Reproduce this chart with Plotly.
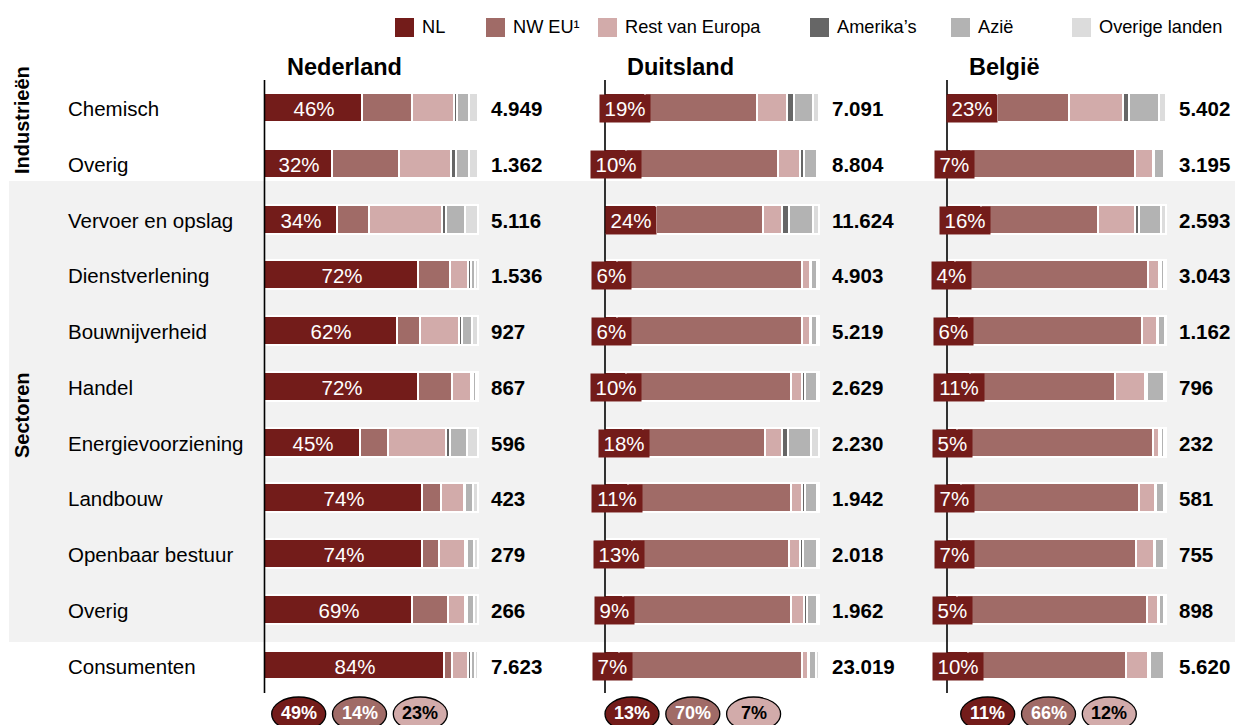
import plotly.graph_objects as go

# ---------------- data ----------------
categories = ["Chemisch", "Overig", "Vervoer en opslag", "Dienstverlening", "Bouwnijverheid",
              "Handel", "Energievoorziening", "Landbouw", "Openbaar bestuur", "Overig", "Consumenten"]
series_names = ["NL", "NW EU¹", "Rest van Europa", "Amerika’s", "Azië", "Overige landen"]
panel_titles = ["Nederland", "Duitsland", "België"]

# Nederland
nl_NL = [46, 32, 34, 72, 62, 72, 45, 74, 74, 69, 84]
nl_NW = [23, 31, 15, 15, 11, 16, 13, 8.5, 8, 17, 4]
nl_Rest = [20, 24.5, 34, 8.5, 18, 8.5, 27, 11, 12, 8, 7.5]
nl_Am = [1, 2, 2, 1, 1.5, 1, 2, 0.5, 1, 1, 1]
nl_Az = [6, 6.5, 9, 2, 4.5, 1.5, 8, 3.5, 3, 3, 2]
nl_Ov = [4, 4, 6, 1.5, 3, 1, 5, 2.5, 2, 2, 1.5]
nl_tot = [4949, 1362, 5116, 1536, 927, 867, 596, 423, 279, 266, 7623]
nl_sum = [49, 14, 23]

# Duitsland
de_NL = [19, 10, 24, 6, 6, 10, 18, 11, 13, 9, 7]
de_NW = [52, 71, 50, 86, 86, 77, 57, 76, 73, 78, 85]
de_Rest = [14, 10, 9, 4, 4, 5, 8, 5, 5, 6, 3]
de_Am = [3.5, 2, 3, 0.5, 0.5, 1.5, 2.5, 1.5, 1.5, 1.5, 0.5]
de_Az = [8.5, 6, 11, 2.5, 2.5, 5.5, 11, 5.5, 6.5, 4.5, 3]
de_Ov = [3, 1, 3, 1, 1, 1, 3.5, 1, 1, 1, 1.5]
de_tot = [7091, 8804, 11624, 4903, 5219, 2629, 2230, 1942, 2018, 1962, 23019]
de_sum = [13, 70, 7]

# België
be_NL = [23, 7, 16, 4, 6, 11, 5, 7, 7, 5, 10]
be_NW = [33, 79, 53, 88, 83, 66, 89, 80.5, 79.5, 86.5, 72]
be_Rest = [24.5, 8, 17, 5, 7, 13.5, 3, 7.5, 8, 5, 10]
be_Am = [2.5, 0.7, 1.5, 0.5, 0.5, 1, 0.5, 0.5, 0.5, 0.5, 0.5]
be_Az = [14, 4.6, 10, 1.5, 3, 7.5, 1.5, 3.5, 4, 2, 6.5]
be_Ov = [3, 0.7, 2.5, 1, 0.5, 1, 1, 1, 1, 1, 1]
be_tot = [5402, 3195, 2593, 3043, 1162, 796, 232, 581, 755, 898, 5620]
be_sum = [11, 66, 12]

group_labels = ["Industrieën", "Sectoren"]

# ---------------- style ----------------
W, H = 1235, 725
colors = ["#731c1a", "#a06b67", "#d2abaa", "#666666", "#b3b3b3", "#dcdcdc"]
FONT = "Liberation Sans, Arial, sans-serif"


def px(x):
    return x / W


def py(y):
    return 1 - y / H


row0, rowstep = 108.8, 55.72
yr_top = -row0 / rowstep
yr_bot = (H - row0) / rowstep


def yv(pix):
    return (pix - row0) / rowstep


panels = [
    dict(series=[nl_NL, nl_NW, nl_Rest, nl_Am, nl_Az, nl_Ov], tot=nl_tot, summ=nl_sum,
         dom=(265, 479), ax=264.5, ell=271.7),
    dict(series=[de_NL, de_NW, de_Rest, de_Am, de_Az, de_Ov], tot=de_tot, summ=de_sum,
         dom=(605, 820), ax=605, ell=605),
    dict(series=[be_NL, be_NW, be_Rest, be_Am, be_Az, be_Ov], tot=be_tot, summ=be_sum,
         dom=(947, 1167), ax=947, ell=960.7),
]

fig = go.Figure()
ypos = list(range(len(categories)))
shapes = []
annotations = []

LBL_FS = 20.5


def text_w(s, fs):
    return sum(0.556 if c.isdigit() else 0.889 if c == "%" else 0.5 for c in s) * fs


# gray band
shapes.append(dict(type="rect", xref="paper", yref="y", x0=px(9), x1=1,
                   y0=yv(181), y1=yv(642), fillcolor="#f2f2f2", line_width=0, layer="below"))

for p_i, p in enumerate(panels):
    xa = "x" if p_i == 0 else f"x{p_i + 1}"
    scale = (p["dom"][1] - p["dom"][0]) / 100.0
    for s_i, vals in enumerate(p["series"]):
        fig.add_trace(go.Bar(
            x=vals, y=ypos, orientation="h", xaxis=xa, yaxis="y",
            name=series_names[s_i], showlegend=False,
            marker=dict(color=colors[s_i], line=dict(color="white", width=1.6)),
            width=0.52, hoverinfo="skip"))
    # axis line
    shapes.append(dict(type="line", xref="paper", yref="y", x0=px(p["ax"]), x1=px(p["ax"]),
                       y0=yv(80), y1=yv(693), line=dict(color="black", width=1.6), layer="above"))
    # NL percentage labels
    for i, v in enumerate(p["series"][0]):
        t = f"{v:g}%"
        wbox = text_w(t, LBL_FS) + 5
        need_box = (wbox + 4) > (v * scale - 2)
        annotations.append(dict(xref=xa, yref="y", x=v / 2, y=i, text=t, showarrow=False,
                                font=dict(family=FONT, size=LBL_FS, color="white"),
                                bgcolor=colors[0] if need_box else "rgba(0,0,0,0)",
                                borderpad=2, height=23,
                                width=wbox, xanchor="center", yanchor="middle"))
    # totals
    for i, v in enumerate(p["tot"]):
        annotations.append(dict(xref=xa, yref="y", x=100, y=i, xshift=10,
                                text=f"{v:,}".replace(",", "."), showarrow=False,
                                xanchor="left", yanchor="middle",
                                font=dict(family=FONT, size=20.5, color="black", weight="bold")))
    # title
    annotations.append(dict(xref="paper", yref="paper", x=px(p["ax"] + 20), y=py(67),
                            text=f"<b>{panel_titles[p_i]}</b>", showarrow=False,
                            xanchor="left", yanchor="middle",
                            font=dict(family=FONT, size=23.5, color="black")))
    # summary ellipses
    for k, v in enumerate(p["summ"]):
        x0 = p["ell"] + k * 60.8
        shapes.append(dict(type="circle", xref="paper", yref="paper",
                           x0=px(x0), x1=px(x0 + 54), y0=py(697), y1=py(731),
                           fillcolor=colors[k], line=dict(color="black", width=1.3), layer="above"))
        annotations.append(dict(xref="paper", yref="paper", x=px(x0 + 27), y=py(713),
                                text=f"<b>{v}%</b>", showarrow=False,
                                xanchor="center", yanchor="middle",
                                font=dict(family=FONT, size=18,
                                          color="black" if k == 2 else "white")))

# category labels
for i, c in enumerate(categories):
    annotations.append(dict(xref="paper", yref="y", x=px(66), y=i, text=c, showarrow=False,
                            xanchor="left", yanchor="middle",
                            font=dict(family=FONT, size=20.5, color="black")))

# group labels (vertical)
for lbl, yc in zip(group_labels, [120, 415]):
    annotations.append(dict(xref="paper", yref="paper", x=px(22), y=py(yc),
                            text=f"<b>{lbl}</b>", showarrow=False, textangle=-90,
                            xanchor="center", yanchor="middle",
                            font=dict(family=FONT, size=20, color="black")))

# legend (manual)
leg_sq = [395, 486, 598, 810, 951, 1072]
for k, name in enumerate(series_names):
    shapes.append(dict(type="rect", xref="paper", yref="paper",
                       x0=px(leg_sq[k]), x1=px(leg_sq[k] + 19), y0=py(18), y1=py(37),
                       fillcolor=colors[k], line_width=0))
    annotations.append(dict(xref="paper", yref="paper", x=px(leg_sq[k] + 25), y=py(27.5),
                            text=name, showarrow=False, xanchor="left", yanchor="middle",
                            font=dict(family=FONT, size=18.2, color="black")))

layout_axes = {}
for p_i, p in enumerate(panels):
    key = "xaxis" if p_i == 0 else f"xaxis{p_i + 1}"
    layout_axes[key] = dict(domain=[px(p["dom"][0]), px(p["dom"][1])], range=[0, 100],
                            visible=False, fixedrange=True, anchor="y")

fig.update_layout(
    width=W, height=H,
    margin=dict(l=0, r=0, t=0, b=0),
    paper_bgcolor="white", plot_bgcolor="rgba(0,0,0,0)",
    barmode="stack", bargap=0,
    yaxis=dict(domain=[0, 1], range=[yr_bot, yr_top], visible=False, fixedrange=True),
    shapes=shapes, annotations=annotations,
    showlegend=False,
    font=dict(family=FONT),
    **layout_axes,
)

fig.write_html("out.html", config={"displayModeBar": False},
               post_script="document.body.style.margin='0';document.body.style.overflow='hidden';")
